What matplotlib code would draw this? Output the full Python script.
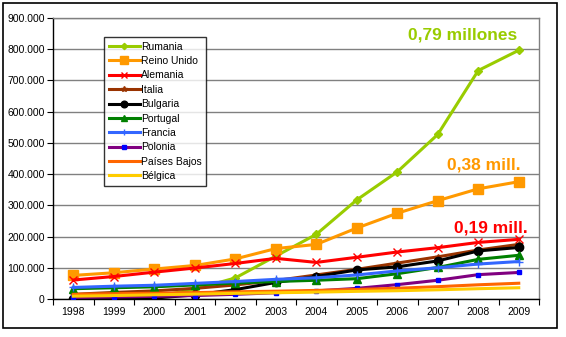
import matplotlib
matplotlib.use("Agg")
import matplotlib.pyplot as plt
from matplotlib.patches import Rectangle
from matplotlib.ticker import FuncFormatter, FixedLocator

plt.rcParams['font.family'] = ['Liberation Sans', 'DejaVu Sans']

years = ['1998', '1999', '2000', '2001', '2002', '2003', '2004', '2005',
         '2006', '2007', '2008', '2009']

rumania = [2400, 3100, 6400, 31600, 67300, 137300, 207000, 317400, 407200, 527000, 731800, 796600]
reino_unido = [75600, 84000, 96000, 107300, 128300, 161500, 174800, 227200, 274700, 315000, 352900, 375700]
alemania = [60800, 72000, 86000, 99200, 113800, 130200, 117200, 133600, 150500, 164400, 181200, 191000]
italia = [15000, 21000, 26000, 34000, 45000, 59000, 77000, 95000, 115000, 135000, 157000, 175000]
bulgaria = [1000, 1500, 3000, 13000, 30000, 53000, 72000, 93000, 103000, 122000, 154000, 165000]
portugal = [33000, 36000, 39000, 45000, 51000, 56000, 60000, 65000, 81000, 101000, 127000, 140000]
francia = [37000, 41000, 44000, 50000, 56000, 63000, 68000, 77000, 90000, 100000, 112000, 120000]
polonia = [5000, 6500, 8500, 11000, 15000, 20000, 26000, 34000, 46000, 60000, 78000, 85000]
paises_bajos = [15000, 17000, 18500, 20500, 23000, 25000, 27500, 30500, 34500, 39500, 45500, 50500]
belgica = [9000, 11000, 13500, 15500, 18000, 20000, 22000, 24500, 26500, 29500, 33000, 36000]

series = [
    ('Rumania', rumania, '#99CC00', dict(marker='D', ms=4, mfc='#99CC00', mec='#99CC00')),
    ('Reino Unido', reino_unido, '#FF9900', dict(marker='s', ms=7, mfc='#FF9900', mec='#FF9900')),
    ('Alemania', alemania, '#FF0000', dict(marker='x', ms=6, mew=1.0, mec='#FF0000')),
    ('Italia', italia, '#993300', dict(marker='*', ms=5, mfc='#993300', mec='#993300')),
    ('Bulgaria', bulgaria, '#000000', dict(marker='o', ms=6, mfc='#000000', mec='#000000')),
    ('Portugal', portugal, '#008000', dict(marker='^', ms=6, mfc='#008000', mec='#008000')),
    ('Francia', francia, '#3366FF', dict(marker='+', ms=6, mew=1.0, mec='#3366FF')),
    ('Polonia', polonia, '#800080', dict(marker='s', ms=3, mfc='#0000FF', mec='#0000FF')),
    ('Países Bajos', paises_bajos, '#FF6600', dict(marker='None')),
    ('Bélgica', belgica, '#FFCC00', dict(marker='None')),
]

fig = plt.figure(figsize=(5.66, 3.37), dpi=100)
fig.patches.append(Rectangle((3/566, 1 - 328/337), 554/566, 325/337,
                             transform=fig.transFigure, fill=False,
                             edgecolor='black', linewidth=1.2))
ax = fig.add_axes([53/566, 1 - 299/337, 486/566, 281/337])

x = list(range(len(years)))
handles = []
for i, (name, vals, color, mk) in enumerate(series):
    h, = ax.plot(x, vals, color=color, linewidth=2.2, label=name, zorder=3 + i * 0.01, **mk)
    handles.append(h)

ax.set_xlim(-0.5, len(years) - 0.5)
ax.set_ylim(0, 900000)
ax.set_yticks(range(0, 900001, 100000))
ax.yaxis.set_major_formatter(FuncFormatter(
    lambda v, p: '0' if v == 0 else f'{int(v):,}'.replace(',', '.')))
ax.set_xticks(x)
ax.set_xticklabels(years)
ax.xaxis.set_minor_locator(FixedLocator([i - 0.5 for i in range(len(years) + 1)]))
ax.tick_params(axis='x', which='major', length=0, labelsize=7.5, pad=6)
ax.tick_params(axis='x', which='minor', length=4, width=0.8, direction='out')
ax.tick_params(axis='y', labelsize=7.5, length=4, width=0.8, direction='out', pad=2)

ax.grid(axis='y', color='#808080', linewidth=1.0, zorder=0)
ax.set_axisbelow(True)
for s in ['top', 'right']:
    ax.spines[s].set_color('#808080')
    ax.spines[s].set_linewidth(1.0)
for s in ['left', 'bottom']:
    ax.spines[s].set_color('black')
    ax.spines[s].set_linewidth(1.0)

leg = ax.legend(handles=handles, loc='upper left',
                bbox_to_anchor=((104 - 53) / 486, (299 - 37) / 281),
                fontsize=7.5, frameon=True, fancybox=False, edgecolor='black',
                handlelength=3.0, handletextpad=0.1, labelspacing=0.42,
                borderpad=0.45, borderaxespad=0, markerscale=0.8)
leg.get_frame().set_linewidth(1.0)

fig.text(463/566, 1 - 35/337, '0,79 millones', color='#99CC00', fontsize=12.5,
         fontweight='bold', ha='center', va='center')
fig.text(484/566, 1 - 165/337, '0,38 mill.', color='#FF9900', fontsize=12.5,
         fontweight='bold', ha='center', va='center')
fig.text(491/566, 1 - 228/337, '0,19 mill.', color='#FF0000', fontsize=12.5,
         fontweight='bold', ha='center', va='center')

fig.savefig('out.png', dpi=100)
